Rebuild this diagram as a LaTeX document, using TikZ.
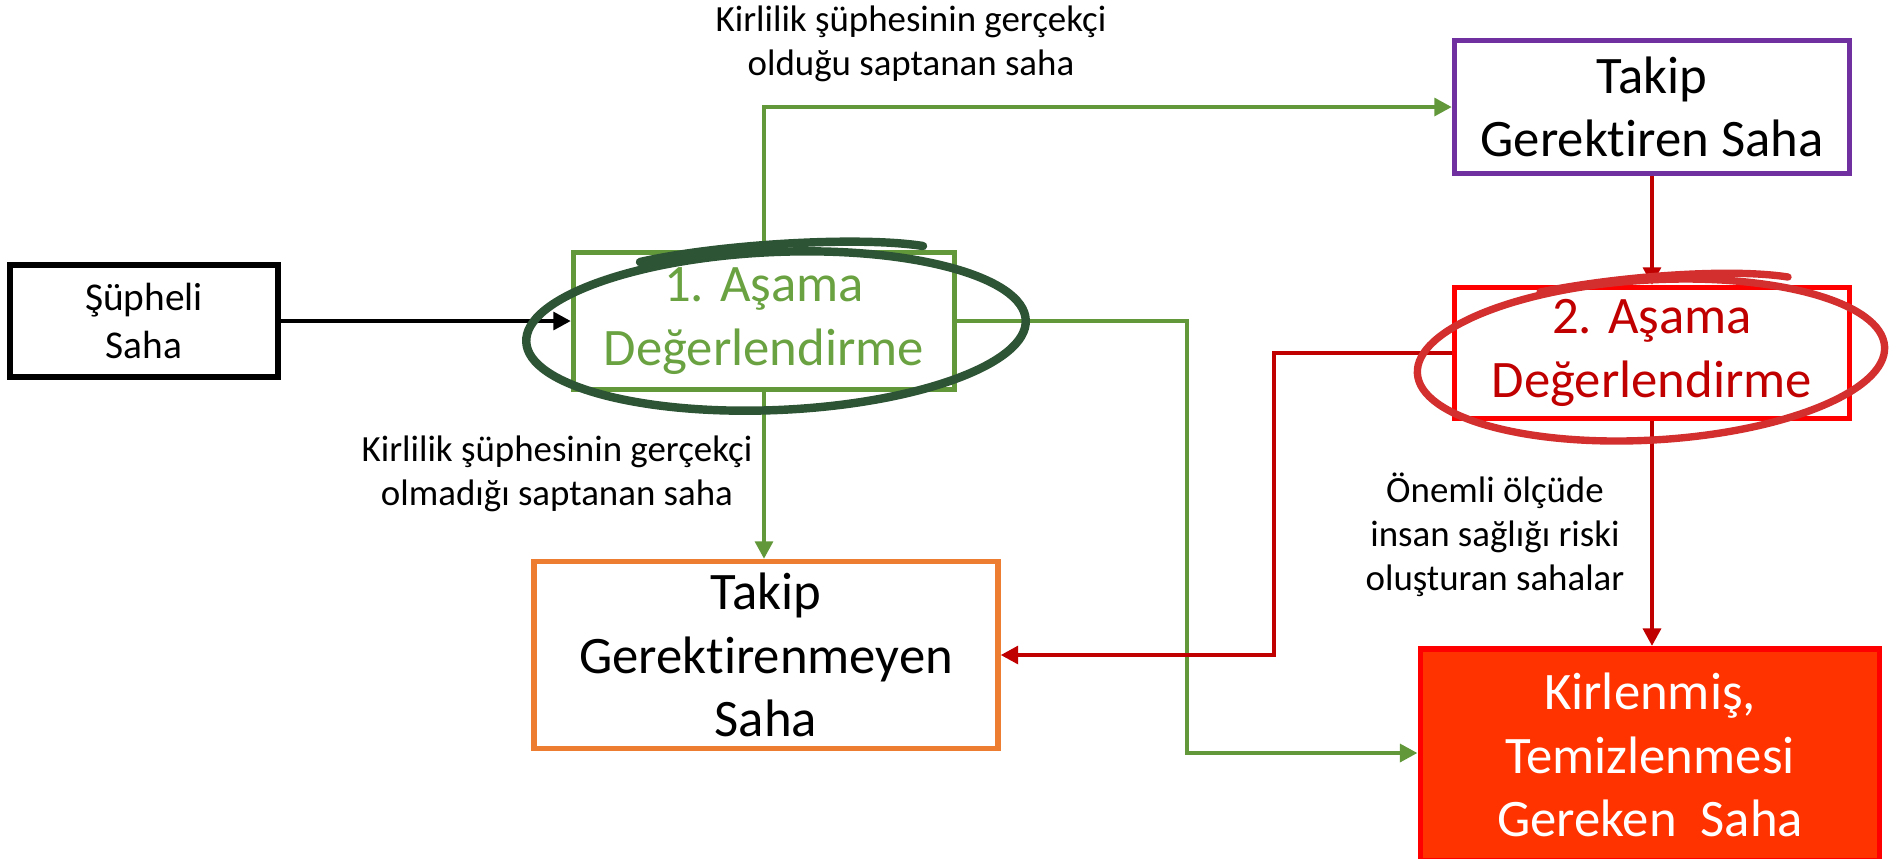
\documentclass[tikz,border=0pt]{standalone}
\usepackage{fontspec}
\setmainfont{Carlito}[Ligatures=NoCommon]
\usepackage{xcolor}
\usetikzlibrary{arrows.meta, positioning}

\definecolor{yesil}{RGB}{98,152,58}
\definecolor{yesilYazi}{RGB}{106,162,66}
\definecolor{koyuYesil}{RGB}{46,84,54}
\definecolor{mor}{RGB}{112,48,160}
\definecolor{kirmizi}{RGB}{255,0,0}
\definecolor{koyuKirmizi}{RGB}{192,0,0}
\definecolor{kirmiziHalka}{RGB}{211,47,47}
\definecolor{turuncu}{RGB}{237,125,49}
\definecolor{kiremit}{RGB}{255,51,0}

\begin{document}
\begin{tikzpicture}[
				x=0.1mm, y=-0.1mm,
				% kutular
				kutu/.style={draw, line width=1.5pt, align=center, inner sep=2pt, font=\fontsize{15}{18}\selectfont},
				kutuSiyah/.style={kutu, draw=black, font=\fontsize{11.2}{13.5}\selectfont},
				kutuYesil/.style={kutu, draw=yesil, text=yesilYazi},
				kutuMor/.style={kutu, draw=mor},
				kutuKirmizi/.style={kutu, draw=kirmizi, text=koyuKirmizi},
				kutuTuruncu/.style={kutu, draw=turuncu},
				kutuDolu/.style={kutu, draw=kirmizi, fill=kiremit, text=white, line width=1.7pt},
				etiket/.style={align=center, font=\fontsize{10.5}{12.5}\selectfont},
				% oklar
				okSiyah/.style={-{Triangle[length=5pt, width=5pt]}, line width=1.4pt, black},
				okYesil/.style={-{Triangle[length=5pt, width=5pt]}, line width=1.4pt, yesil},
				okKirmizi/.style={-{Triangle[length=5pt, width=5pt]}, line width=1.4pt, koyuKirmizi},
				% el cizimi halkalar
				halkaYesil/.style={line width=2.4pt, koyuYesil, line cap=round},
				halkaKirmizi/.style={line width=2.1pt, kirmiziHalka, line cap=round},
				]
				
				\useasboundingbox (0,0) rectangle (1902,858);
				
				\node[kutuSiyah, minimum width=26.8mm, minimum height=11.2mm] (supheli) at (144,321) {Şüpheli\\Saha};
				\node[kutuYesil, minimum width=38.1mm, minimum height=13.7mm] (asama1) at (764,321) {1. Aşama\\Değerlendirme};
				\node[kutuMor, minimum width=39.5mm, minimum height=13.3mm] (takip) at (1652,107) {Takip\\Gerektiren Saha};
				\node[kutuKirmizi, minimum width=39.5mm, minimum height=13.1mm] (asama2) at (1652,353) {2. Aşama\\Değerlendirme};
				\node[kutuTuruncu, minimum width=46.4mm, minimum height=18.7mm] (takipDegil) at (766,655) {Takip\\Gerektirenmeyen\\Saha};
				\node[kutuDolu, minimum width=45.9mm, minimum height=21.2mm] (kirli) at (1650,755) {Kirlenmiş,\\Temizlenmesi\\Gereken\ \ Saha};
				
				\node[etiket] (etiketGercek) at (911,44) {Kirlilik şüphesinin gerçekçi\\olduğu saptanan saha};
				\node[etiket] (etiketDegil) at (557,474) {Kirlilik şüphesinin gerçekçi\\olmadığı saptanan saha};
				\node[etiket] (etiketRisk) at (1495,535) {Önemli ölçüde\\insan sağlığı riski\\oluşturan sahalar};
				
				\coordinate (donusYesil) at (1187,753);
				\coordinate (donusKirmizi) at (1274,655);
				
				\draw[okSiyah] (supheli.east) -- (asama1.west);
				\draw[okYesil] (asama1.north) |- (takip.west);
				\draw[okYesil] (asama1.south) -- (asama1.south |- takipDegil.north);
				\draw[okYesil] (asama1.east) -| (donusYesil) -- (kirli.west |- donusYesil);
				\draw[okKirmizi] (takip.south) -- (asama2.north);
				\draw[okKirmizi] (asama2.west) -| (donusKirmizi) -- (takipDegil.east |- donusKirmizi);
				\draw[okKirmizi] (asama2.south) -- (asama2.south |- kirli.north);
				
				% halkalar
				\draw[halkaYesil] (776,331) ellipse [x radius=25mm, y radius=7.9mm, rotate=2.5];
				\draw[halkaYesil] (640,262) .. controls (720,244) and (860,236) .. (923,246);
				\draw[halkaKirmizi] (1651,360) ellipse [x radius=23.4mm, y radius=8mm, rotate=3.3];
				\draw[halkaKirmizi] (1540,292) .. controls (1620,276) and (1730,268) .. (1788,277);
				
			\end{tikzpicture}
\end{document}
